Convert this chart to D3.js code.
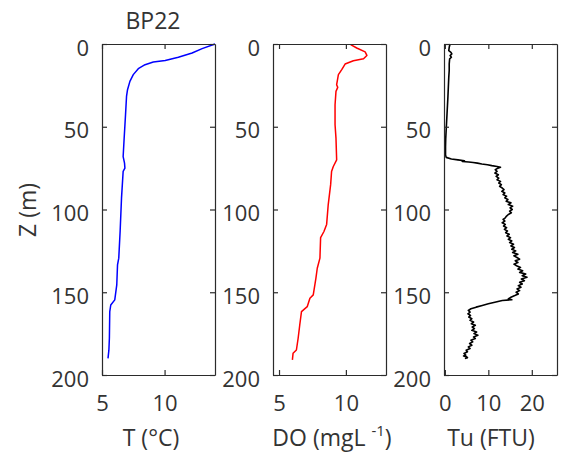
<!DOCTYPE html>
<html>
<head>
<meta charset="utf-8">
<script src="https://cdn.jsdelivr.net/npm/d3@7"></script>
<style>
  body { margin: 0; background: #fff; }
  svg { display: block; }
  text { font-family: "Open Sans", "Noto Sans", sans-serif; fill: #333; }
</style>
</head>
<body>
<svg id="chart" width="561" height="466"></svg>
<script>
// depth (m) for each profile
var depthT = [0, 2.8, 5.4, 8, 10, 10.9, 12.5, 14.9, 18.5, 22.6, 27.6, 31.7, 42.7, 56.9, 68, 72, 75, 77, 93, 113, 129.4, 133.5, 145.6, 154.6, 157.7, 161.7, 177.8, 185, 190];
var tempT  = [14.03, 13.0, 12.2, 11.1, 10.05, 9.1, 8.44, 7.9, 7.5, 7.23, 7.04, 6.96, 6.88, 6.77, 6.69, 6.8, 6.83, 6.69, 6.56, 6.45, 6.34, 6.24, 6.18, 6.02, 5.7, 5.62, 5.59, 5.55, 5.48];

var depthDO = [0.4, 2.4, 4.8, 6.9, 8.9, 10.1, 12.1, 15.5, 18.5, 24.6, 26.2, 28.6, 36.7, 48.8, 56.9, 70, 74, 77, 85, 97, 109, 113.3, 117, 129.4, 135.5, 141.5, 151.6, 153.6, 158.7, 161.7, 169.8, 177.8, 184.9, 186.9, 190.9];
var doVals  = [10.36, 10.81, 11.44, 11.57, 11.32, 10.56, 9.94, 9.69, 9.44, 9.31, 9.39, 9.26, 9.19, 9.19, 9.26, 9.31, 9.06, 8.93, 8.86, 8.68, 8.56, 8.36, 8.11, 8.06, 7.86, 7.76, 7.56, 7.31, 7.11, 6.68, 6.55, 6.43, 6.30, 6.05, 6.0];

var depthTu = [0, 2, 4, 5, 6, 7, 8, 9, 12, 16, 20, 26, 32, 37, 42, 47, 52, 57, 62, 67, 68.5, 69.5, 70, 70.5, 71, 71.3, 71.6, 72, 72.5, 73, 73.5, 74, 74.5, 75, 76, 77, 78, 79, 80, 81, 82, 83, 84, 85, 86, 87, 88, 89, 90, 91, 92, 93, 94, 95, 96, 97, 98, 99, 100, 101, 102, 103, 104, 105, 106, 107, 108, 109, 110, 111, 112, 113, 114, 115, 116, 117, 118, 119, 120, 121, 122, 123, 124, 125, 126, 127, 128, 129, 130, 131, 132, 133, 134, 135, 136, 137, 138, 139, 140, 141, 142, 143, 144, 145, 146, 147, 148, 149, 150, 151, 152, 153, 154, 154.5, 155, 156, 157, 158, 159, 160, 161, 162, 163, 164, 165, 166, 167, 168, 169, 170, 171, 172, 173, 174, 175, 176, 177, 178, 179, 180, 181, 182, 183, 184, 185, 186, 187, 188, 188.5, 189, 189.5, 190];
var tuVals  = [1.2, 1.0, 0.9, 1.4, 1.6, 1.2, 1.5, 1.1, 1.0, 1.0, 0.9, 0.8, 0.7, 0.6, 0.5, 0.4, 0.3, 0.2, 0.15, 0.15, 0.3, 1.5, 3.0, 4.5, 4.0, 5.5, 6.5, 7.5, 8.5, 9.8, 10.8, 12.0, 12.8, 12.2, 11.6, 12.0, 11.5, 12.3, 11.8, 12.4, 12.0, 12.8, 12.4, 13.0, 12.6, 13.2, 13.6, 13.1, 13.8, 13.4, 14.2, 13.8, 14.5, 14.1, 15.2, 14.6, 15.6, 15.0, 15.5, 14.9, 15.3, 14.6, 14.2, 13.9, 13.4, 13.8, 13.2, 13.9, 13.5, 14.2, 13.7, 14.4, 14.0, 14.8, 14.3, 15.1, 14.6, 15.4, 14.9, 15.8, 15.2, 16.0, 15.4, 16.3, 15.6, 16.8, 15.9, 16.6, 17.2, 16.2, 16.8, 15.9, 16.5, 17.4, 16.8, 17.9, 17.2, 18.6, 17.8, 18.9, 17.6, 18.3, 17.2, 17.8, 16.9, 17.5, 16.6, 17.2, 16.4, 16.9, 16.1, 15.2, 14.6, 15.4, 13.2, 11.5, 10.0, 8.6, 7.2, 6.0, 5.4, 5.8, 5.3, 5.9, 5.5, 6.2, 5.8, 6.6, 6.1, 7.0, 6.3, 6.8, 6.2, 7.3, 6.7, 7.6, 6.6, 7.0, 6.0, 6.4, 5.7, 6.2, 5.4, 5.8, 4.9, 5.2, 4.4, 4.8, 4.3, 5.0, 5.2, 4.6];

var depthTicks = [0, 50, 100, 150, 200];
var titleText = "BP22";

var svg = d3.select("#chart");
var plotTop = 44, plotHeight = 331, plotWidth = 113;

var y = d3.scaleLinear().domain([0, 200]).range([plotTop, plotTop + plotHeight]);

// one entry per panel
var panels = [
  { left: 102, domain: [5, 14.03], ticks: [5, 10], depth: depthT, vals: tempT, color: "#0000ff", lw: 1.5, labelX: 151 },
  { left: 273, domain: [4.55, 13.0], ticks: [5, 10], depth: depthDO, vals: doVals, color: "#ff0000", lw: 1.5, labelX: 332 },
  { left: 444, domain: [-0.2, 25.8], ticks: [0, 10, 20], depth: depthTu, vals: tuVals, color: "#000000", lw: 1.6, labelX: 491 }
];

function styleAxis(g) {
  g.selectAll("path, line").attr("stroke", "#2b2b2b").attr("stroke-width", 1.2);
  g.selectAll("text").style("font-size", "22px").attr("fill", "#333");
}

panels.forEach(function(p, i) {
  var x = d3.scaleLinear().domain(p.domain).range([p.left, p.left + plotWidth]);

  var line = d3.line()
    .x(function(d, k) { return x(p.vals[k]); })
    .y(function(d) { return y(d); });

  svg.append("path")
    .datum(p.depth)
    .attr("fill", "none")
    .attr("stroke", p.color)
    .attr("stroke-width", p.lw)
    .attr("stroke-linejoin", "round")
    .attr("d", line);

  // frame: ticks pointing inside on all four sides
  svg.append("g")
    .attr("transform", "translate(" + p.left + ",0)")
    .call(d3.axisLeft(y).tickValues(depthTicks).tickSizeInner(-5).tickSizeOuter(0).tickPadding(13))
    .call(styleAxis)
    .selectAll("text").attr("dy", "0.5em");

  svg.append("g")
    .attr("transform", "translate(" + (p.left + plotWidth) + ",0)")
    .call(d3.axisRight(y).tickValues(depthTicks).tickSizeInner(-5).tickSizeOuter(0).tickFormat(""))
    .call(styleAxis);

  svg.append("g")
    .attr("transform", "translate(0," + plotTop + ")")
    .call(d3.axisTop(x).tickValues(p.ticks).tickSizeInner(-5).tickSizeOuter(0).tickFormat(""))
    .call(styleAxis);

  svg.append("g")
    .attr("transform", "translate(0," + (plotTop + plotHeight) + ")")
    .call(d3.axisBottom(x).tickValues(p.ticks).tickSizeInner(-5).tickSizeOuter(0).tickPadding(20))
    .call(styleAxis);
});

// x labels
svg.append("text").attr("x", panels[0].labelX).attr("y", 446)
  .attr("text-anchor", "middle").style("font-size", "23px").text("T (°C)");

var doLabel = svg.append("text").attr("x", panels[1].labelX).attr("y", 446)
  .attr("text-anchor", "middle").style("font-size", "23px");
doLabel.append("tspan").text("DO (mgL ");
doLabel.append("tspan").attr("dy", -10).style("font-size", "15px").text("-1");
doLabel.append("tspan").attr("dy", 10).text(")");

svg.append("text").attr("x", panels[2].labelX).attr("y", 446)
  .attr("text-anchor", "middle").style("font-size", "23px").text("Tu (FTU)");

// y label
svg.append("text")
  .attr("transform", "translate(36,210) rotate(-90)")
  .attr("text-anchor", "middle").style("font-size", "23px").text("Z (m)");

// title
svg.append("text").attr("x", 153).attr("y", 29)
  .attr("text-anchor", "middle").style("font-size", "23px").attr("fill", "#222").text(titleText);
</script>
</body>
</html>
